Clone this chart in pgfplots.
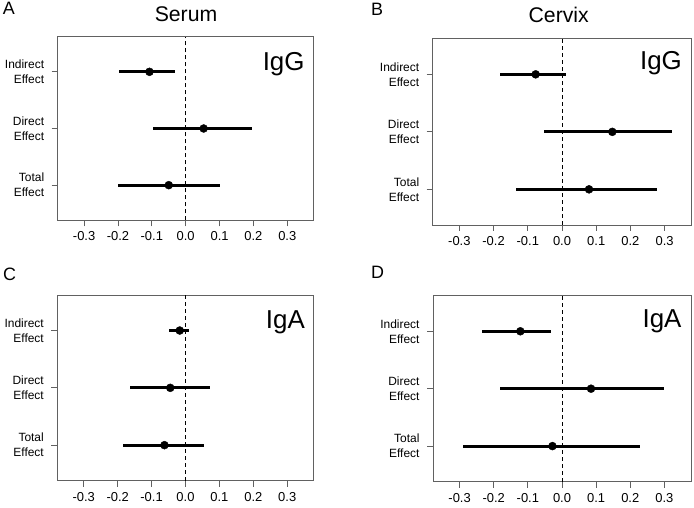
\documentclass[border=0pt]{standalone}
\usepackage{pgfplots}
\pgfplotsset{compat=1.18}
\usepackage{pgfplotstable}
\usepackage{fontspec}
\setmainfont{Liberation Sans}

\pgfplotstableread{
pos est lo hi
3 -0.107 -0.197 -0.033
2 0.053 -0.096 0.196
1 -0.050 -0.201 0.101
}\dataA
\pgfplotstableread{
pos est lo hi
3 -0.077 -0.180 0.011
2 0.147 -0.053 0.321
1 0.079 -0.134 0.277
}\dataB
\pgfplotstableread{
pos est lo hi
3 -0.017 -0.049 0.010
2 -0.045 -0.163 0.071
1 -0.062 -0.183 0.056
}\dataC
\pgfplotstableread{
pos est lo hi
3 -0.122 -0.235 -0.031
2 0.085 -0.182 0.298
1 -0.028 -0.290 0.229
}\dataD

\definecolor{boxgray}{gray}{0.38}

\pgfplotsset{
  forest/.style={
    scale only axis,
    anchor=south west,
    xmin=-0.378, xmax=0.378,
    ymin=0.38, ymax=3.62,
    axis line style={boxgray, line width=0.9bp},
    xtick={-0.3,-0.2,-0.1,0,0.1,0.2,0.3},
    xticklabels={-0.3,-0.2,-0.1,0.0,0.1,0.2,0.3},
    ytick={1,2,3},
    yticklabels={{Total\\Effect},{Direct\\Effect},{Indirect\\Effect}},
    tick align=outside,
    major tick length=6bp,
    tick style={boxgray, line width=0.9bp},
    xtick pos=bottom, ytick pos=left,
    x tick label style={font=\fontsize{13}{15}\selectfont, yshift=-2bp},
    y tick label style={font=\fontsize{12}{15}\selectfont, align=right, xshift=-4bp},
    clip=false,
  },
  ci/.style={
    only marks, mark=*, mark size=4bp, black,
    mark options={fill=black, draw=black},
    error bars/.cd, x dir=both, x explicit,
    error bar style={line width=3.2bp, black, line cap=butt},
    error mark=none,
  },
}

\newcommand{\ciplot}[1]{%
  \addplot[black, dash pattern=on 4bp off 3bp, line width=0.7bp] coordinates {(0,0.38) (0,3.62)};
  \addplot[ci] table[x=est, y=pos,
    x error plus expr=\thisrow{hi}-\thisrow{est},
    x error minus expr=\thisrow{est}-\thisrow{lo}] {#1};
}

\begin{document}
\begin{tikzpicture}
\path[use as bounding box] (0,0) rectangle (694bp,508bp);

% Panel A
\begin{axis}[forest, at={(57.7bp,287.7bp)}, width=256bp, height=183.6bp]
\ciplot{\dataA}
\node[anchor=base east, inner sep=0pt, font=\fontsize{26}{30}\selectfont] at (rel axis cs:0.965,0.815) {IgG};
\end{axis}

% Panel B
\begin{axis}[forest, at={(432.7bp,283bp)}, width=258.6bp, height=186.3bp]
\ciplot{\dataB}
\node[anchor=base east, inner sep=0pt, font=\fontsize{26}{30}\selectfont] at (rel axis cs:0.964,0.832) {IgG};
\end{axis}

% Panel C
\begin{axis}[forest, at={(57.3bp,27.3bp)}, width=256.4bp, height=185.7bp]
\ciplot{\dataC}
\node[anchor=base east, inner sep=0pt, font=\fontsize{26}{30}\selectfont] at (rel axis cs:0.966,0.817) {IgA};
\end{axis}

% Panel D
\begin{axis}[forest, at={(433bp,26.3bp)}, width=258bp, height=186bp]
\ciplot{\dataD}
\node[anchor=base east, inner sep=0pt, font=\fontsize{26}{30}\selectfont] at (rel axis cs:0.964,0.83) {IgA};
\end{axis}

% Titles and panel letters
\node[anchor=base, inner sep=0pt, font=\fontsize{21.3}{25}\selectfont] at (186bp,486.3bp) {Serum};
\node[anchor=base, inner sep=0pt, font=\fontsize{21.3}{25}\selectfont] at (558.7bp,485.3bp) {Cervix};
\node[anchor=base west, inner sep=0pt, font=\fontsize{18}{21}\selectfont] at (2.7bp,493bp) {A};
\node[anchor=base west, inner sep=0pt, font=\fontsize{18}{21}\selectfont] at (371bp,492.3bp) {B};
\node[anchor=base west, inner sep=0pt, font=\fontsize{18}{21}\selectfont] at (3bp,227.3bp) {C};
\node[anchor=base west, inner sep=0pt, font=\fontsize{18}{21}\selectfont] at (371bp,229bp) {D};
\end{tikzpicture}
\end{document}
